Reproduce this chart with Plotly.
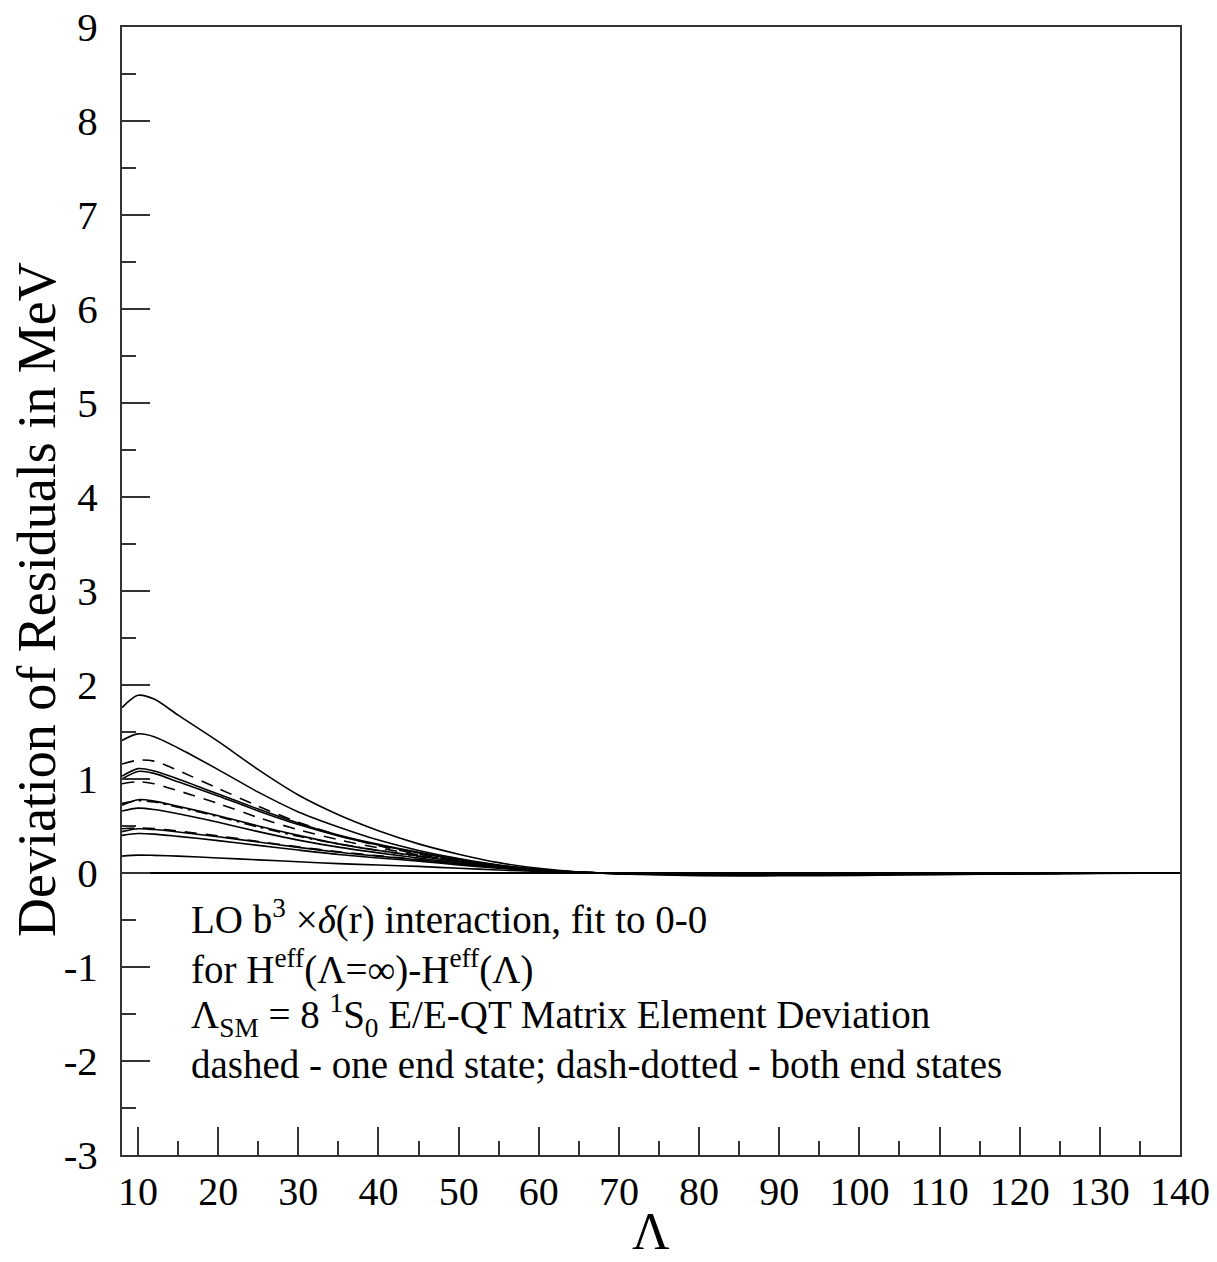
import plotly.graph_objects as go

# Lambda sample points
lam = [8, 10, 12, 15, 20, 25, 30, 35, 40, 45, 50, 55, 60, 65, 70, 80, 90, 100, 110, 120, 130, 140]

# solid curves
s1 = [1.76, 1.89, 1.85, 1.68, 1.40, 1.10, 0.83, 0.62, 0.45, 0.31, 0.20, 0.11, 0.05, 0.011, -0.01, -0.028, -0.03, -0.025, -0.017, -0.01, -0.004, 0]
s2 = [1.41, 1.48, 1.45, 1.33, 1.10, 0.86, 0.65, 0.49, 0.35, 0.24, 0.155, 0.085, 0.038, 0.009, -0.007, -0.022, -0.024, -0.019, -0.013, -0.007, -0.003, 0]
s3a = [1.03, 1.11, 1.085, 1.00, 0.84, 0.68, 0.53, 0.405, 0.305, 0.22, 0.144, 0.082, 0.037, 0.009, -0.006, -0.017, -0.018, -0.014, -0.01, -0.006, -0.002, 0]
s3b = [1.00, 1.08, 1.06, 0.97, 0.82, 0.66, 0.515, 0.395, 0.297, 0.214, 0.14, 0.08, 0.036, 0.009, -0.005, -0.016, -0.017, -0.014, -0.01, -0.005, -0.002, 0]
s4 = [0.72, 0.78, 0.765, 0.71, 0.61, 0.50, 0.40, 0.31, 0.24, 0.18, 0.12, 0.07, 0.031, 0.008, -0.004, -0.012, -0.012, -0.01, -0.007, -0.004, -0.002, 0]
s5 = [0.66, 0.69, 0.675, 0.63, 0.54, 0.44, 0.35, 0.275, 0.214, 0.159, 0.107, 0.062, 0.028, 0.007, -0.003, -0.01, -0.011, -0.009, -0.006, -0.003, -0.001, 0]
s6 = [0.44, 0.47, 0.463, 0.437, 0.385, 0.33, 0.273, 0.221, 0.179, 0.141, 0.096, 0.056, 0.026, 0.006, -0.002, -0.007, -0.008, -0.006, -0.004, -0.002, -0.001, 0]
s7 = [0.40, 0.42, 0.414, 0.39, 0.344, 0.294, 0.244, 0.197, 0.16, 0.126, 0.086, 0.05, 0.023, 0.005, -0.002, -0.006, -0.007, -0.005, -0.004, -0.002, -0.001, 0]
s8 = [0.18, 0.19, 0.188, 0.18, 0.16, 0.14, 0.12, 0.10, 0.085, 0.07, 0.05, 0.032, 0.016, 0.004, -0.002, -0.003, -0.004, -0.003, -0.002, -0.001, 0, 0]

# dashed curves (one end state)
d1 = [1.16, 1.20, 1.19, 1.09, 0.90, 0.71, 0.54, 0.40, 0.29, 0.20, 0.127, 0.07, 0.031, 0.007, -0.006, -0.018, -0.019, -0.016, -0.011, -0.006, -0.002, 0]
d2 = [0.95, 0.97, 0.95, 0.875, 0.74, 0.59, 0.46, 0.354, 0.267, 0.192, 0.126, 0.072, 0.032, 0.008, -0.005, -0.015, -0.016, -0.013, -0.009, -0.005, -0.002, 0]
d3 = [0.47, 0.48, 0.473, 0.446, 0.394, 0.336, 0.278, 0.226, 0.182, 0.144, 0.098, 0.058, 0.026, 0.006, -0.002, -0.007, -0.008, -0.006, -0.004, -0.002, -0.001, 0]

# dash-dotted curve (both end states)
dd1 = [0.74, 0.77, 0.755, 0.70, 0.60, 0.49, 0.39, 0.31, 0.24, 0.177, 0.12, 0.07, 0.031, 0.008, -0.004, -0.012, -0.012, -0.01, -0.007, -0.004, -0.002, 0]

x_ticks = list(range(10, 141, 10))
y_ticks = list(range(-3, 10))

x_title = "\u039b"
y_title = "Deviation of Residuals in MeV"

notes = [
    ("LO b<sup>3</sup> \u00d7<i>\u03b4</i>(r) interaction, fit to 0-0", -0.47),
    ("for H<sup>eff</sup>(\u039b=\u221e)-H<sup>eff</sup>(\u039b)", -1.0),
    ("\u039b<sub>SM</sub> = 8 <sup>1</sup>S<sub>0</sub> E/E-QT Matrix Element Deviation", -1.52),
    ("dashed - one end state; dash-dotted - both end states", -2.04),
]

fig = go.Figure()
solid_style = dict(color="black", width=1.6, shape="spline", smoothing=0.8)
for ys in [s1, s2, s3a, s3b, s4, s5, s6, s7, s8]:
    fig.add_trace(go.Scatter(x=lam, y=ys, mode="lines", line=solid_style, showlegend=False))
for ys in [d1, d2, d3]:
    fig.add_trace(go.Scatter(x=lam, y=ys, mode="lines",
                             line=dict(color="black", width=1.6, dash="12px,9px", shape="spline", smoothing=0.8),
                             showlegend=False))
fig.add_trace(go.Scatter(x=lam, y=dd1, mode="lines",
                         line=dict(color="black", width=1.6, dash="12px,5px,3px,5px", shape="spline", smoothing=0.8),
                         showlegend=False))

for txt, yv in notes:
    fig.add_annotation(x=16.35, y=yv, xref="x", yref="y", text=txt, showarrow=False,
                       xanchor="left", yanchor="middle",
                       font=dict(family="Liberation Serif", size=39, color="black"))

# axis titles
fig.add_annotation(x=0.5, y=-0.068, xref="paper", yref="paper", text=x_title, showarrow=False,
                   xanchor="center", yanchor="middle",
                   font=dict(family="Liberation Serif", size=52, color="black"))
fig.add_annotation(x=-0.0803, y=0.492, xref="paper", yref="paper", text=y_title, showarrow=False,
                   xanchor="center", yanchor="middle", textangle=-90,
                   font=dict(family="Liberation Serif", size=54, color="black"))

axis_common = dict(showgrid=False, showline=True, linecolor="#333", linewidth=2, mirror=True,
                   ticks="inside", tickcolor="#333", tickwidth=1.5, ticklen=28, automargin=False,
                   ticklabeloverflow="allow")

fig.update_xaxes(range=[8, 140], tickmode="array", tickvals=x_ticks, ticktext=[str(v) for v in x_ticks],
                 tickfont=dict(family="Liberation Serif", size=40, color="black"),
                 minor=dict(ticks="inside", ticklen=14, tickcolor="#333", tickwidth=1.5, dtick=5, tick0=5),
                 zeroline=False, **axis_common)
fig.update_yaxes(range=[-3, 9], tickmode="array", tickvals=y_ticks, ticktext=[str(v) for v in y_ticks],
                 tickfont=dict(family="Liberation Serif", size=41, color="black"),
                 ticklabelstandoff=14,
                 minor=dict(ticks="inside", ticklen=14, tickcolor="#333", tickwidth=1.5, dtick=0.5, tick0=0.5),
                 zeroline=True, zerolinecolor="black", zerolinewidth=1.6, **axis_common)

fig.update_layout(width=1201, height=1246, margin=dict(l=114, r=29, t=19, b=99),
                  plot_bgcolor="white", paper_bgcolor="white")

fig.write_html("out.html")
